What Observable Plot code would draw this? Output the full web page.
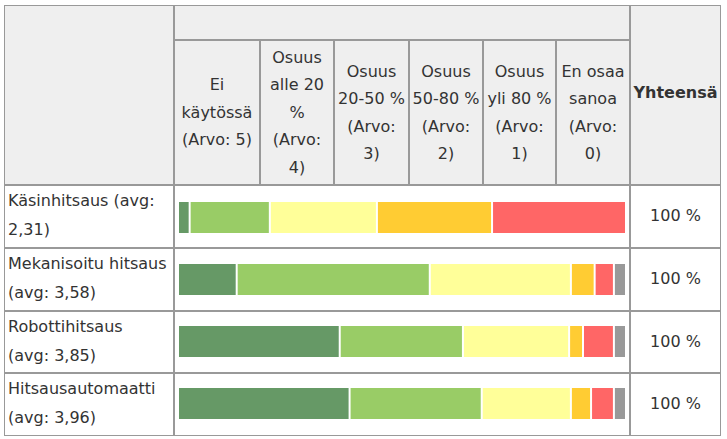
<!DOCTYPE html>
<html>
<head>
<meta charset="utf-8">
<script src="https://cdn.jsdelivr.net/npm/d3@7"></script>
<script src="https://cdn.jsdelivr.net/npm/@observablehq/plot@0.6"></script>
<style>
  html, body { margin: 0; padding: 0; background: #fff; }
  body { width: 727px; height: 439px; position: relative; overflow: hidden;
         font-family: "DejaVu Sans", Verdana, sans-serif; font-size: 16px; color: #333; }
  #grid { position: absolute; left: 4px; top: 5px; display: grid;
          grid-template-columns: 170px 86px 74px 75px 74px 73px 74px 91px;
          grid-template-rows: 35px 145px 63px 63px 62px 63px; }
  #grid > div { border: 1px solid #999; box-sizing: border-box; }
  .hd { background: #efefef; }
  .colhd { display: flex; flex-direction: column; justify-content: center; align-items: center;
           line-height: 27.5px; white-space: nowrap; text-align: center; }
  .tot { display: flex; align-items: center; justify-content: center; font-weight: bold; padding-bottom: 6px; }
  .lab { padding: 1px 0 0 3px; line-height: 28.5px; white-space: nowrap; }
  .pct { display: flex; align-items: center; justify-content: center; padding-bottom: 2px; }
  #bars { position: absolute; left: 174px; top: 185px; }
  #bars svg { background: none; display: block; }
</style>
</head>
<body>
<div id="grid"></div>
<div id="bars"></div>
<script>
// ---- data ----
const categories = ["Käsinhitsaus", "Mekanisoitu hitsaus", "Robottihitsaus", "Hitsausautomaatti"];
const avgs = ["2,31", "3,58", "3,85", "3,96"];
const labelLines = [
  ["Käsinhitsaus (avg:", "2,31)"],
  ["Mekanisoitu hitsaus", "(avg: 3,58)"],
  ["Robottihitsaus", "(avg: 3,85)"],
  ["Hitsausautomaatti", "(avg: 3,96)"]
];
const seriesNames = ["Ei käytössä (Arvo: 5)", "Osuus alle 20 % (Arvo: 4)", "Osuus 20-50 % (Arvo: 3)",
                     "Osuus 50-80 % (Arvo: 2)", "Osuus yli 80 % (Arvo: 1)", "En osaa sanoa (Arvo: 0)"];
const headerLines = [
  ["Ei", "käytössä", "(Arvo: 5)"],
  ["Osuus", "alle 20", "%", "(Arvo:", "4)"],
  ["Osuus", "20-50 %", "(Arvo:", "3)"],
  ["Osuus", "50-80 %", "(Arvo:", "2)"],
  ["Osuus", "yli 80 %", "(Arvo:", "1)"],
  ["En osaa", "sanoa", "(Arvo:", "0)"]
];
const eiKaytossa  = [2.6, 13.1, 36.1, 38.3];
const alle20      = [17.9, 43.1, 27.5, 29.5];
const osuus20_50  = [23.9, 31.5, 23.7, 19.9];
const osuus50_80  = [25.7, 5.3, 3.1, 4.5];
const yli80       = [29.9, 4.3, 6.9, 5.1];
const enOsaa      = [0, 2.7, 2.7, 2.7];
const totals = ["100 %", "100 %", "100 %", "100 %"];
const totalHeader = "Yhteensä";
const colors = ["#669966", "#99cc66", "#ffff99", "#ffcc33", "#ff6666", "#999999"];

// ---- table structure ----
const grid = document.getElementById("grid");
function cell(cls, col, row, html) {
  const d = document.createElement("div");
  d.className = cls;
  d.style.gridColumn = col;
  d.style.gridRow = row;
  if (html != null) d.innerHTML = html;
  grid.appendChild(d);
  return d;
}
cell("hd", "1", "1 / 3");
cell("hd", "2 / 8", "1");
cell("hd tot", "8", "1 / 3", totalHeader);
headerLines.forEach((lines, i) => {
  cell("hd colhd", String(i + 2), "2", lines.map(l => `<div>${l}</div>`).join(""));
});
categories.forEach((c, i) => {
  cell("lab", "1", String(i + 3), labelLines[i].join("<br>"));
  cell("", "2 / 8", String(i + 3));
  cell("pct", "8", String(i + 3), totals[i]);
});

// ---- bars ----
const seriesValues = [eiKaytossa, alle20, osuus20_50, osuus50_80, yli80, enOsaa];
const data = [];
categories.forEach((c, i) => {
  seriesNames.forEach((s, j) => {
    data.push({category: c, series: s, value: seriesValues[j][i]});
  });
});

const chart = Plot.plot({
  width: 456,
  height: 251,
  margin: 0,
  x: {domain: [0, 100], range: [5, 453], axis: null},
  y: {domain: categories, range: [0, 251], paddingInner: 0.5, paddingOuter: 0.25, axis: null},
  color: {domain: seriesNames, range: colors},
  marks: [
    Plot.barX(data.filter(d => d.value > 0), Plot.stackX({
      x: "value", y: "category", fill: "series", z: "series", order: seriesNames, insetRight: 2
    }))
  ]
});
document.getElementById("bars").appendChild(chart);
</script>
</body>
</html>
